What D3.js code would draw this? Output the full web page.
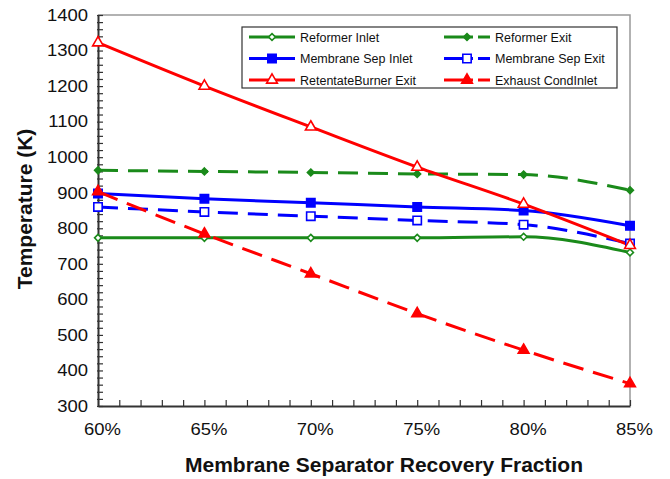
<!DOCTYPE html>
<html>
<head>
<meta charset="utf-8">
<script src="https://cdn.jsdelivr.net/npm/d3@7"></script>
<style>
  html, body { margin: 0; padding: 0; background: #fff; }
  svg { display: block; font-family: "Liberation Sans", Arial, sans-serif; }
</style>
</head>
<body>
<svg id="chart" width="670" height="479"></svg>
<script>
// Recovery fraction (x) and temperatures (K) for each stream
const recovery = [0.60, 0.65, 0.70, 0.75, 0.80, 0.85];
const reformerInlet = [773, 773, 773, 773, 776, 732];
const reformerExit = [963, 960, 957, 953, 951, 907];
const membraneSepInlet = [898, 883, 872, 860, 850, 807];
const membraneSepExit = [860, 846, 834, 822, 810, 757];
const retentateBurnerExit = [1322, 1200, 1085, 972, 868, 752];
const exhaustCondInlet = [903, 784, 672, 560, 457, 363];
const yTicks = [300, 400, 500, 600, 700, 800, 900, 1000, 1100, 1200, 1300, 1400];
const xTicks = [0.60, 0.65, 0.70, 0.75, 0.80, 0.85];

const series = [
  { name: "Reformer Inlet", values: reformerInlet, color: "#1a8a1a", dash: null, marker: "diamond", fill: "open" },
  { name: "Reformer Exit", values: reformerExit, color: "#1a8a1a", dash: "20,10", marker: "diamond", fill: "solid" },
  { name: "Membrane Sep Inlet", values: membraneSepInlet, color: "#0000ff", dash: null, marker: "square", fill: "solid" },
  { name: "Membrane Sep Exit", values: membraneSepExit, color: "#0000ff", dash: "20,10", marker: "square", fill: "open" },
  { name: "RetentateBurner Exit", values: retentateBurnerExit, color: "#ff0000", dash: null, marker: "triangle", fill: "open" },
  { name: "Exhaust CondInlet", values: exhaustCondInlet, color: "#ff0000", dash: "21,10", marker: "triangle", fill: "solid" }
];

const svg = d3.select("#chart");
const plotLeft = 98, plotRight = 630, plotTop = 15, plotBottom = 406;
const tickFont = 16.5, tickStretch = 1.12;

const x = d3.scaleLinear().domain([0.60, 0.85]).range([plotLeft, plotRight]);
const y = d3.scaleLinear().domain([300, 1400]).range([plotBottom, plotTop]);

// top and right frame edges
svg.append("path")
  .attr("d", `M${plotLeft},${plotTop}H${plotRight}V${plotBottom}`)
  .attr("fill", "none").attr("stroke", "#999").attr("stroke-width", 1.5);

// y axis with minor ticks pointing inward
const yMinor = d3.range(300, 1401, 20);
svg.append("g").attr("transform", `translate(${plotLeft - 1},0)`)
  .call(d3.axisRight(y).tickValues(yMinor).tickSize(6).tickFormat(""))
  .call(g => g.select(".domain").remove())
  .call(g => g.selectAll("line").attr("stroke", "#333").attr("stroke-width", 1.2));
const yAxis = svg.append("g").attr("transform", `translate(${plotLeft},0)`)
  .call(d3.axisLeft(y).tickValues(yTicks).tickSize(0).tickPadding(0).tickFormat(d3.format("d")));
yAxis.select(".domain").attr("stroke", "#333").attr("stroke-width", 2);
yAxis.selectAll("text")
  .attr("x", 0)
  .attr("transform", `translate(-10,0) scale(${tickStretch},1)`)
  .attr("font-size", tickFont).attr("fill", "#111")
  .attr("font-family", "Liberation Sans, Arial, sans-serif");

// x axis with minor ticks pointing inward
const xMinor = d3.range(60, 86, 1).map(v => v / 100);
svg.append("g").attr("transform", `translate(0,${plotBottom})`)
  .call(d3.axisTop(x).tickValues(xMinor).tickSize(6).tickFormat(""))
  .call(g => g.select(".domain").remove())
  .call(g => g.selectAll("line").attr("stroke", "#333").attr("stroke-width", 1.2));
const xAxis = svg.append("g").attr("transform", `translate(0,${plotBottom})`)
  .call(d3.axisBottom(x).tickValues(xTicks).tickSize(0).tickPadding(17).tickFormat(d3.format(".0%")));
xAxis.select(".domain").attr("stroke", "#333").attr("stroke-width", 2);
xAxis.selectAll("text")
  .attr("transform", `translate(4,0) scale(${tickStretch},1)`)
  .attr("font-size", tickFont).attr("fill", "#111")
  .attr("font-family", "Liberation Sans, Arial, sans-serif");

// axis titles
svg.append("text")
  .attr("x", 384).attr("y", 472)
  .attr("text-anchor", "middle")
  .attr("font-size", 21).attr("font-weight", "bold").attr("fill", "#111")
  .text("Membrane Separator Recovery Fraction");
svg.append("text")
  .attr("transform", "translate(32,209) rotate(-90)")
  .attr("text-anchor", "middle")
  .attr("font-size", 21).attr("font-weight", "bold").attr("fill", "#111")
  .text("Temperature (K)");

// marker shapes
function markerPath(kind) {
  if (kind === "diamond") return d3.symbol().type(d3.symbolDiamond2).size(30)();
  if (kind === "square") return d3.symbol().type(d3.symbolSquare).size(70)();
  return d3.symbol().type(d3.symbolTriangle).size(50)();
}
function drawMarker(g, s, cx, cy, scale) {
  g.append("path")
    .attr("d", markerPath(s.marker))
    .attr("transform", `translate(${cx},${cy}) scale(${scale || 1})`)
    .attr("fill", s.fill === "solid" ? s.color : "#fff")
    .attr("stroke", s.color)
    .attr("stroke-width", 1.6);
}

const line = d3.line().curve(d3.curveMonotoneX)
  .x((d, i) => x(recovery[i])).y(d => y(d));

const plot = svg.append("g");
series.forEach(s => {
  plot.append("path")
    .attr("d", line(s.values))
    .attr("fill", "none")
    .attr("stroke", s.color)
    .attr("stroke-width", 3)
    .attr("stroke-dasharray", s.dash);
});
series.forEach(s => {
  const g = plot.append("g");
  s.values.forEach((v, i) => drawMarker(g, s, x(recovery[i]), y(v)));
});

// legend
const legend = svg.append("g");
legend.append("rect")
  .attr("x", 242).attr("y", 27).attr("width", 375).attr("height", 61)
  .attr("fill", "#fff").attr("stroke", "#333").attr("stroke-width", 1.2);
series.forEach((s, i) => {
  const col = i % 2, row = Math.floor(i / 2);
  const lx = 249 + col * 195, ly = 37 + row * 21.5;
  const g = legend.append("g");
  g.append("line")
    .attr("x1", lx).attr("x2", lx + 46).attr("y1", ly).attr("y2", ly)
    .attr("stroke", s.color).attr("stroke-width", 3)
    .attr("stroke-dasharray", s.dash ? "29,5,12" : null);
  drawMarker(g, s, lx + 23, ly, 1);
  g.append("text")
    .attr("x", lx + 51).attr("y", ly + 4.5)
    .attr("font-size", 12.5).attr("fill", "#111")
    .text(s.name);
});
</script>
</body>
</html>
